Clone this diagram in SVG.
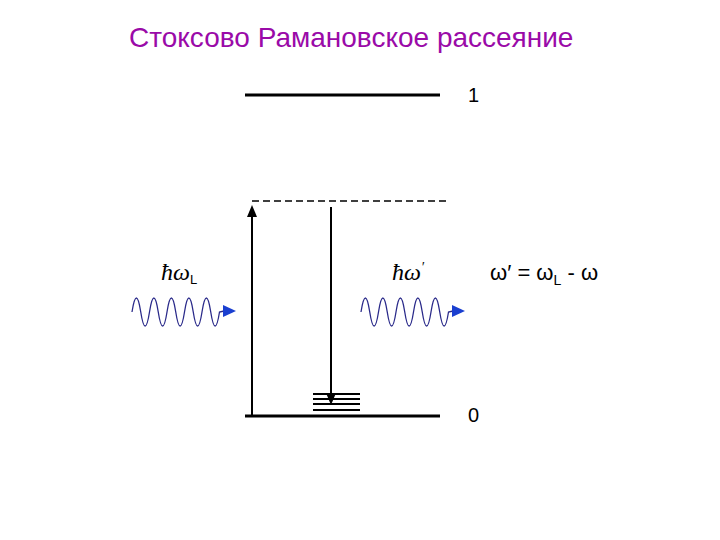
<svg xmlns="http://www.w3.org/2000/svg" width="720" height="540" viewBox="0 0 720 540">
<style>
.lvl{stroke:#000;stroke-width:3;fill:none}
.ar{stroke:#000;stroke-width:2;fill:none}
.hd{fill:#000}
.wave{stroke:#2a2a8a;stroke-width:1.3;fill:none}
.wh{fill:#1a3fd0}
.t{font-family:"Liberation Sans",Arial,sans-serif;fill:#000}
.s{font-family:"Liberation Serif","Times New Roman",serif;font-style:italic;fill:#000}
</style>
<rect width="720" height="540" fill="#fff"/>
<text class="t" x="129" y="47" font-size="28" style="fill:#9a0aa8">Стоксово Рамановское рассеяние</text>
<g id="level1">
<line class="lvl" x1="245" y1="95" x2="440" y2="95"/>
<text class="t" x="468" y="102" font-size="20">1</text>
</g>
<g id="virtual">
<line x1="252" y1="201" x2="446" y2="201" stroke="#000" stroke-width="1.5" stroke-dasharray="7,4"/>
</g>
<g id="level0">
<line class="lvl" x1="245" y1="416" x2="440" y2="416"/>
<text class="t" x="468" y="422" font-size="20">0</text>
<g stroke="#000" stroke-width="2">
<line x1="313" y1="394" x2="360" y2="394"/>
<line x1="313" y1="399" x2="360" y2="399"/>
<line x1="313" y1="404" x2="360" y2="404"/>
<line x1="313" y1="410" x2="360" y2="410"/>
</g>
</g>
<g id="connectors">
<line class="ar" x1="252" y1="416" x2="252" y2="214"/>
<path class="hd" d="M252,205 L257,217 L247,217 z"/>
<line class="ar" x1="331" y1="207" x2="331" y2="395"/>
<path class="hd" d="M331,405 L336,393 L326,393 z"/>
</g>
<g id="photonL">
<text x="161" y="280" font-size="24"><tspan class="s">ħω</tspan><tspan class="t" font-size="13" dy="4">L</tspan></text>
<path class="wave" d="M132,312 q4.375,-28 8.75,0 t8.75,0 t8.75,0 t8.75,0 t8.75,0 t8.75,0 t8.75,0 t8.75,0 t8.75,0 t8.75,0 L224,311"/>
<path class="wh" d="M223,305 L236,311 L223,317 z"/>
</g>
<g id="photonS">
<text x="392" y="280" font-size="24"><tspan class="s">ħω</tspan><tspan class="s" font-size="14" dy="-8">′</tspan></text>
<path class="wave" d="M361,312 q4.375,-28 8.75,0 t8.75,0 t8.75,0 t8.75,0 t8.75,0 t8.75,0 t8.75,0 t8.75,0 t8.75,0 t8.75,0 L453,311"/>
<path class="wh" d="M452,305 L465,311 L452,317 z"/>
</g>
<g id="formula">
<text class="t" x="490" y="280" font-size="22">ω′ = ω<tspan font-size="14" dy="5">L</tspan><tspan dy="-5"> - ω</tspan></text>
</g>
</svg>
